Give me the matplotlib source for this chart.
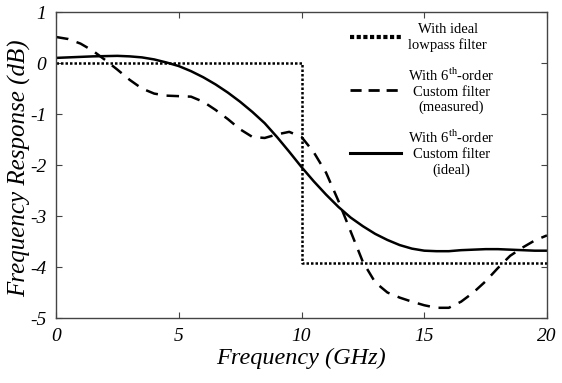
import matplotlib
matplotlib.use("Agg")
import matplotlib.pyplot as plt
from matplotlib.lines import Line2D

plt.rcParams["font.family"] = ["Liberation Serif", "DejaVu Serif"]
plt.rcParams["mathtext.fontset"] = "custom"
plt.rcParams["mathtext.rm"] = "Liberation Serif"
plt.rcParams["axes.unicode_minus"] = False

# ideal lowpass filter (step)
f_ideal_lp = [0, 10, 10, 20]
h_ideal_lp = [0, 0, -3.92, -3.92]

# 6th-order custom filter, ideal response
f_custom = [0, 0.5, 1, 1.5, 2, 2.5, 3, 3.5, 4, 4.5, 5, 5.5, 6, 6.5, 7, 7.5, 8, 8.5, 9,
            9.5, 10, 10.5, 11, 11.5, 12, 12.5, 13, 13.5, 14, 14.5, 15, 15.5, 16, 16.5,
            17, 17.5, 18, 18.5, 19, 19.5, 20]
h_custom = [0.1, 0.11, 0.12, 0.13, 0.135, 0.14, 0.13, 0.11, 0.07, 0.01, -0.06, -0.16,
            -0.28, -0.42, -0.58, -0.76, -0.96, -1.18, -1.45, -1.74, -2.04, -2.32, -2.58,
            -2.82, -3.03, -3.2, -3.35, -3.47, -3.57, -3.64, -3.68, -3.69, -3.69, -3.67,
            -3.66, -3.65, -3.65, -3.66, -3.67, -3.68, -3.68]

# 6th-order custom filter, measured
f_meas = f_custom
h_meas = [0.51, 0.47, 0.38, 0.24, 0.06, -0.13, -0.33, -0.5, -0.6, -0.64, -0.65, -0.66,
          -0.76, -0.92, -1.1, -1.3, -1.45, -1.47, -1.4, -1.35, -1.45, -1.75, -2.15, -2.7,
          -3.3, -3.9, -4.3, -4.5, -4.6, -4.68, -4.75, -4.8, -4.8, -4.68, -4.5, -4.28,
          -4.02, -3.78, -3.62, -3.48, -3.38]

labels = ["With ideal\nlowpass filter",
          "With 6$^{\\mathrm{th}}$-order\nCustom filter\n(measured)",
          "With 6$^{\\mathrm{th}}$-order\nCustom filter\n(ideal)"]

fig = plt.figure(figsize=(5.62, 3.83), dpi=100)
ax = fig.add_axes([56 / 562, 1 - 318 / 383, 491 / 562, 306 / 383])

ax.plot(f_ideal_lp, h_ideal_lp, color="black", lw=1.8, linestyle=(0, (1, 0.8)))
ax.plot(f_meas, h_meas, color="black", lw=1.8, linestyle=(0, (5, 3.5)))
ax.plot(f_custom, h_custom, color="black", lw=1.8)

ax.set_xlim(0, 20)
ax.set_ylim(-5, 1)
ax.set_xticks([0, 5, 10, 15, 20])
ax.set_yticks([-5, -4, -3, -2, -1, 0, 1])
ax.tick_params(direction="in", top=True, right=True, length=4, labelsize=14, pad=7,
               color="#444444")
for t in ax.get_xticklabels() + ax.get_yticklabels():
    t.set_style("italic")
for s in ax.spines.values():
    s.set_color("#444444")
    s.set_linewidth(1.0)

ax.set_xlabel("Frequency (GHz)", fontsize=17.5, style="italic", labelpad=2)
ax.set_ylabel("Frequency Response (dB)", fontsize=18, style="italic")
ax.yaxis.set_label_coords(-0.05, 0.49)

handles = [Line2D([], [], color="black", lw=3, linestyle=(0, (1, 0.6))),
           Line2D([], [], color="black", lw=2, linestyle=(0, (4, 2.5))),
           Line2D([], [], color="black", lw=2.2)]
leg = ax.legend(handles, labels, loc="upper left", bbox_to_anchor=(0.572, 1.007),
                frameon=False, fontsize=10.5, handlelength=3.5, handletextpad=0.5,
                labelspacing=1.0)
for t in leg.get_texts():
    t.set_multialignment("center")

fig.savefig("out.png", dpi=100)
